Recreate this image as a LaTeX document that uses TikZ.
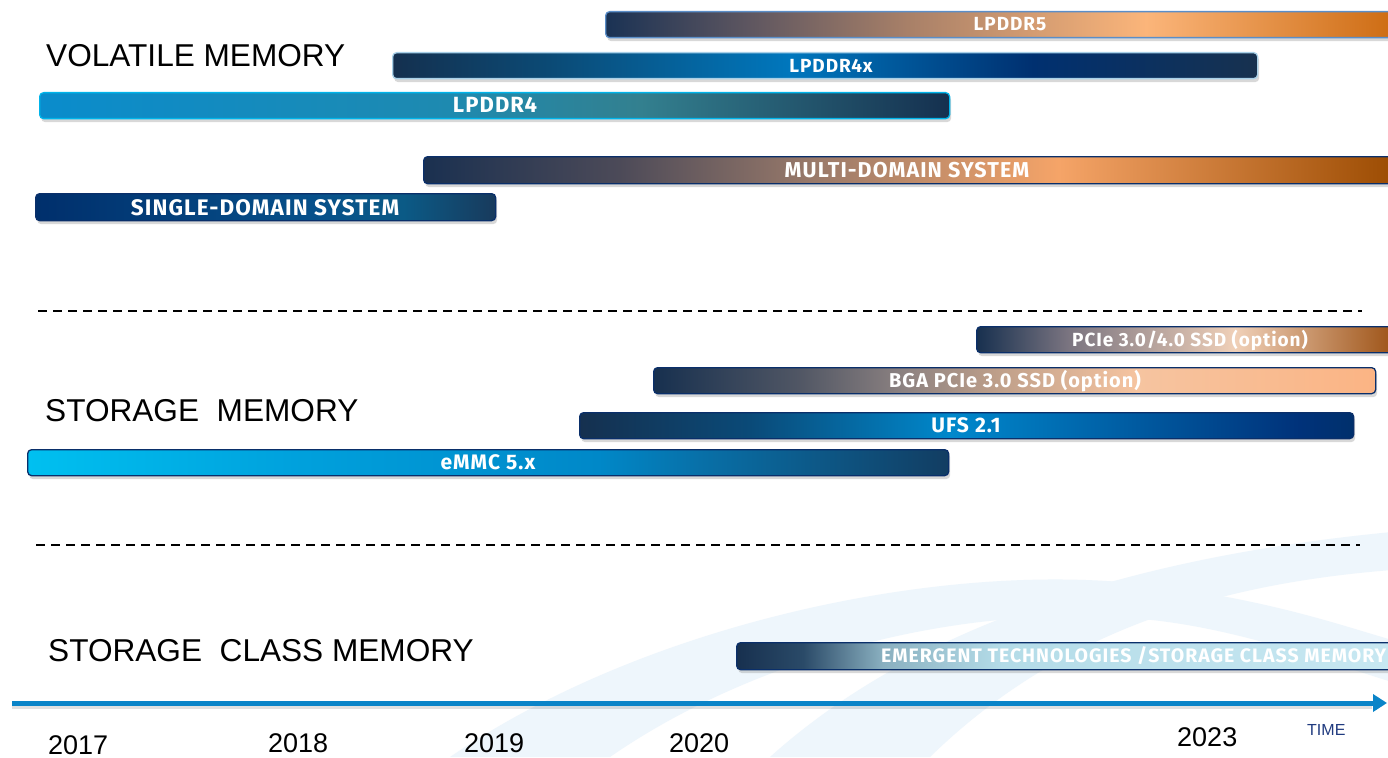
\documentclass[tikz,border=0pt]{standalone}
\usepackage{fontspec}
\setmainfont{Liberation Sans}
\newfontfamily\barfont[LetterSpace=5]{Fira Sans}
\usetikzlibrary{shadows,arrows.meta}

% colours
\definecolor{swooshc}{HTML}{EEF6FC}
\definecolor{axisblue}{HTML}{0A84C8}
\definecolor{timeblue}{HTML}{1F3A7F}
\definecolor{navyline}{HTML}{0A2F6A}
\definecolor{bdlfive}{HTML}{5B8EC8}
\definecolor{bdlfourx}{HTML}{A8D0E8}
\definecolor{bdlfour}{HTML}{00B4EA}
% LPDDR5
\definecolor{lfa}{HTML}{1A3254}\definecolor{lfb}{HTML}{5E5660}\definecolor{lfc}{HTML}{A88068}
\definecolor{lfd}{HTML}{FBB57A}\definecolor{lfe}{HTML}{CC6A10}
% LPDDR4x
\definecolor{xa}{HTML}{14304F}\definecolor{xb}{HTML}{0B4A75}\definecolor{xc}{HTML}{0077BD}
\definecolor{xd}{HTML}{003070}\definecolor{xe}{HTML}{17314F}
% LPDDR4
\definecolor{da}{HTML}{0A8CCC}\definecolor{db}{HTML}{1E8AB0}\definecolor{dc}{HTML}{33808F}
\definecolor{dd}{HTML}{15304F}
% multi
\definecolor{ma}{HTML}{1A3050}\definecolor{mb}{HTML}{4C4A58}\definecolor{mc}{HTML}{9A7A6A}
\definecolor{md}{HTML}{F5A468}\definecolor{me}{HTML}{9A4A00}
% single
\definecolor{sa}{HTML}{002F6C}\definecolor{sb}{HTML}{07508A}\definecolor{sc}{HTML}{0B5A86}
\definecolor{sd}{HTML}{183A5C}
% pcie
\definecolor{pa}{HTML}{17304F}\definecolor{pb}{HTML}{7A7480}\definecolor{pc}{HTML}{F0D0B8}
\definecolor{pd}{HTML}{9A4E10}
% bga
\definecolor{ba}{HTML}{17304F}\definecolor{bb}{HTML}{505664}\definecolor{bc}{HTML}{8A8080}
\definecolor{bd}{HTML}{C0A08A}\definecolor{be}{HTML}{F6C4A0}\definecolor{bf}{HTML}{FBB484}
% ufs
\definecolor{ua}{HTML}{15304F}\definecolor{ub}{HTML}{0A4A78}\definecolor{uc}{HTML}{0088CC}
\definecolor{ud}{HTML}{00327A}\definecolor{ue}{HTML}{00306C}
% emmc
\definecolor{ea}{HTML}{00C0F0}\definecolor{eb}{HTML}{00A0DC}\definecolor{ec}{HTML}{0088C8}
\definecolor{ed}{HTML}{0870A8}\definecolor{ee}{HTML}{123D62}
% emergent
\definecolor{ga}{HTML}{17304F}\definecolor{gb}{HTML}{2A4A68}\definecolor{gc}{HTML}{8AB0C0}
\definecolor{gd}{HTML}{B4DCE8}\definecolor{ge}{HTML}{C8E8F2}

\pgfdeclarehorizontalshading{shlfive}{100bp}{color(0bp)=(lfa); color(25bp)=(lfa); color(34bp)=(lfb); color(44bp)=(lfc); color(59bp)=(lfd); color(75bp)=(lfe); color(100bp)=(lfe)}
\pgfdeclarehorizontalshading{shlfourx}{100bp}{color(0bp)=(xa); color(25bp)=(xa); color(34bp)=(xb); color(48bp)=(xc); color(62bp)=(xd); color(75bp)=(xe); color(100bp)=(xe)}
\pgfdeclarehorizontalshading{shlfour}{100bp}{color(0bp)=(da); color(25bp)=(da); color(47.5bp)=(db); color(58bp)=(dc); color(75bp)=(dd); color(100bp)=(dd)}
\pgfdeclarehorizontalshading{shmulti}{100bp}{color(0bp)=(ma); color(25bp)=(ma); color(35bp)=(mb); color(45bp)=(mc); color(57.5bp)=(md); color(75bp)=(me); color(100bp)=(me)}
\pgfdeclarehorizontalshading{shsingle}{100bp}{color(0bp)=(sa); color(25bp)=(sa); color(55bp)=(sb); color(65bp)=(sc); color(75bp)=(sd); color(100bp)=(sd)}
\pgfdeclarehorizontalshading{shpcie}{100bp}{color(0bp)=(pa); color(25bp)=(pa); color(35.75bp)=(pb); color(55.5bp)=(pc); color(75bp)=(pd); color(100bp)=(pd)}
\pgfdeclarehorizontalshading{shbga}{100bp}{color(0bp)=(ba); color(25bp)=(ba); color(35bp)=(bb); color(42bp)=(bc); color(49bp)=(bd); color(58.5bp)=(be); color(75bp)=(bf); color(100bp)=(bf)}
\pgfdeclarehorizontalshading{shufs}{100bp}{color(0bp)=(ua); color(25bp)=(ua); color(36bp)=(ub); color(49bp)=(uc); color(71.5bp)=(ud); color(75bp)=(ue); color(100bp)=(ue)}
\pgfdeclarehorizontalshading{shemmc}{100bp}{color(0bp)=(ea); color(25bp)=(ea); color(40bp)=(eb); color(56bp)=(ec); color(61.5bp)=(ed); color(75bp)=(ee); color(100bp)=(ee)}
\pgfdeclarehorizontalshading{shemerg}{100bp}{color(0bp)=(ga); color(25bp)=(ga); color(30bp)=(gb); color(36bp)=(gc); color(45bp)=(gd); color(75bp)=(ge); color(100bp)=(ge)}

\newcommand{\bfs}[1]{\barfont\bfseries\fontsize{#1}{#1}\selectfont}

\tikzset{
  bar/.style={rounded corners=4pt, shade, line width=1.3pt, inner sep=0pt, anchor=north west,
    drop shadow={opacity=0.3, shadow xshift=1.5pt, shadow yshift=-3.5pt}},
  bartext/.style={text=white, inner sep=0pt, anchor=base},
  seclabel/.style={font=\fontsize{31.6}{36}\selectfont, text=black, inner sep=0pt, anchor=base west},
  yearlabel/.style={font=\fontsize{27}{30}\selectfont, text=black, inner sep=0pt, anchor=base west},
  sepline/.style={line width=1.3pt, black, dash pattern=on 9pt off 6pt},
  timeaxis/.style={line width=5pt, draw=axisblue, -{Triangle[length=14pt,width=17pt]}},
  swoosh/.style={fill=swooshc}
}

\begin{document}
\begin{tikzpicture}[x=1pt,y=-1pt]
\useasboundingbox (0,0) rectangle (1388,757);
\clip (0,0) rectangle (1388,757);
\fill[white] (0,0) rectangle (1388,757);

% background swooshes
\fill[swoosh] (450,757) .. controls (650,620) and (950,560) .. (1150,585)
  .. controls (1270,600) and (1340,625) .. (1392,640) -- (1392,682)
  .. controls (1320,660) and (1230,625) .. (1130,618)
  .. controls (950,605) and (750,660) .. (610,757) -- cycle;
\fill[swoosh] (770,757) .. controls (900,640) and (1100,560) .. (1392,532)
  -- (1392,570) .. controls (1200,585) and (1050,640) .. (930,757) -- cycle;

% section labels
\node[seclabel] (vol) at (46,67) {VOLATILE MEMORY};
\node[seclabel] (sto) at (45,421) {STORAGE\ \ MEMORY};
\node[seclabel] (scm) at (48,661) {STORAGE\ \ CLASS MEMORY};

% volatile bars
\node[bar, shading=shlfive, draw=bdlfive, minimum width=795pt, minimum height=26pt] (lp5) at (605,11) {};
\node[bartext, font=\bfs{19}] (lp5t) at (1010,31) {LPDDR5};
\node[bar, shading=shlfourx, draw=bdlfourx, minimum width=865pt, minimum height=26pt] (lp4x) at (392,52) {};
\node[bartext, font=\bfs{19}] (lp4xt) at (831,72.5) {LPDDR4x};
\node[bar, shading=shlfour, draw=bdlfour, minimum width=910pt, minimum height=26pt] (lp4) at (39,92) {};
\node[bartext, font=\bfs{22}] (lp4t) at (495,112.5) {LPDDR4};
\node[bar, shading=shmulti, draw=navyline, minimum width=977pt, minimum height=27pt] (multi) at (423,156) {};
\node[bartext, font=\bfs{21.5}] (multit) at (907,177.4) {MULTI-DOMAIN SYSTEM};
\node[bar, shading=shsingle, draw=navyline, minimum width=460pt, minimum height=27pt] (single) at (35,193) {};
\node[bartext, font=\bfs{22.5}] (singlet) at (265,215.3) {SINGLE-DOMAIN SYSTEM};

% separators
\coordinate (d1a) at (38,311);
\coordinate (d1b) at (1362,311);
\draw[sepline] (d1a) -- (d1b);
\coordinate (d2a) at (36,545);
\coordinate (d2b) at (1360,545);
\draw[sepline] (d2a) -- (d2b);

% storage bars
\node[bar, shading=shpcie, draw=navyline, minimum width=424pt, minimum height=26pt] (pcie) at (976,326) {};
\node[bartext, font=\bfs{19}] (pciet) at (1190,346) {PCIe 3.0/4.0 SSD (option)};
\node[bar, shading=shbga, draw=navyline, minimum width=722pt, minimum height=26pt] (bga) at (653,367) {};
\node[bartext, font=\bfs{20}] (bgat) at (1015,387.4) {BGA PCIe 3.0 SSD (option)};
\node[bar, shading=shufs, draw=navyline, minimum width=774pt, minimum height=26pt] (ufs) at (579,412) {};
\node[bartext, font=\bfs{21}] (ufst) at (966,432.7) {UFS 2.1};
\node[bar, shading=shemmc, draw=navyline, minimum width=921pt, minimum height=26pt] (emmc) at (27,449) {};
\node[bartext, font=\bfs{21}] (emmct) at (488,469.7) {eMMC 5.x};

% storage class memory bar
\node[bar, shading=shemerg, draw=navyline, minimum width=664pt, minimum height=27pt] (emerg) at (736,642) {};
\node[bartext, font=\bfs{19.5}, anchor=base west] (emergt) at (881,662.7) {EMERGENT TECHNOLOGIES /STORAGE CLASS MEMORY};

% time axis
\coordinate (axs) at (12,703);
\coordinate (axe) at (1387,703);
\draw[line width=4pt, black, opacity=0.12] (12,707) -- (1372,707);
\draw[timeaxis] (axs) -- (axe);

% years
\node[yearlabel] (y17) at (48,754) {2017};
\node[yearlabel] (y18) at (268,752) {2018};
\node[yearlabel] (y19) at (464,752) {2019};
\node[yearlabel] (y20) at (669,752) {2020};
\node[yearlabel] (y23) at (1177,746) {2023};
\node[font=\fontsize{16}{18}\selectfont, text=timeblue, inner sep=0pt, anchor=base west] (time) at (1307,735) {TIME};
\end{tikzpicture}
\end{document}
